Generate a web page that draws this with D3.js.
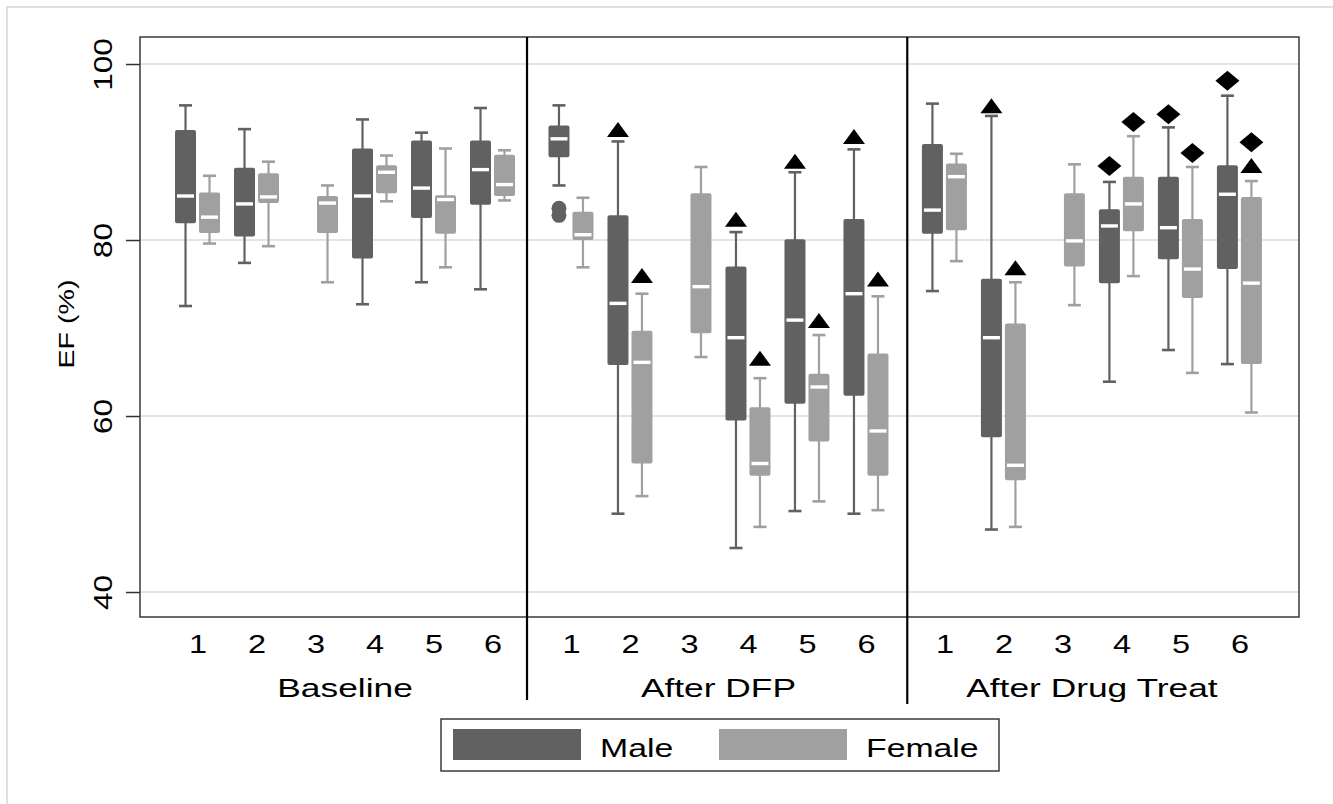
<!DOCTYPE html>
<html>
<head>
<meta charset="utf-8">
<script src="https://cdn.jsdelivr.net/npm/d3@7"></script>
<style>
  body { margin: 0; background: #fff; }
  svg { display: block; font-family: "Liberation Sans", Arial, sans-serif; }
</style>
</head>
<body>
<div id="chart"></div>
<script>
// ---- data ----
var panels = ["Baseline", "After DFP", "After Drug Treat"];
var groups = ["1", "2", "3", "4", "5", "6"];
var sexes = ["Male", "Female"];
var yTicks = [40, 60, 80, 100];

// [min, q1, median, q3, max] per group, null = no box
var maleBaseline   = [[72.5, 81.9, 85.0, 92.5, 95.3], [77.4, 80.4, 84.1, 88.2, 92.6], null,
                      [72.7, 77.9, 85.0, 90.4, 93.7], [75.2, 82.5, 85.9, 91.3, 92.2], [74.4, 84.0, 88.0, 91.3, 95.0]];
var femaleBaseline = [[79.6, 80.8, 82.6, 85.4, 87.3], [79.3, 84.2, 84.9, 87.6, 88.9], [75.2, 80.8, 84.2, 85.0, 86.2],
                      [84.4, 85.3, 87.7, 88.5, 89.6], [76.9, 80.7, 84.6, 85.1, 90.4], [84.5, 85.0, 86.3, 89.7, 90.2]];
var maleDFP        = [[86.2, 89.4, 91.5, 93.0, 95.3], [48.9, 65.8, 72.8, 82.8, 91.2], null,
                      [45.0, 59.5, 68.9, 77.0, 80.9], [49.2, 61.4, 70.9, 80.1, 87.7], [48.9, 62.3, 73.9, 82.4, 90.3]];
var femaleDFP      = [[76.9, 80.0, 80.6, 83.2, 84.8], [50.9, 54.6, 66.1, 69.7, 73.9], [66.7, 69.4, 74.7, 85.3, 88.3],
                      [47.4, 53.2, 54.6, 61.0, 64.3], [50.3, 57.1, 63.3, 64.8, 69.2], [49.3, 53.2, 58.3, 67.1, 73.6]];
var maleDrug       = [[74.2, 80.7, 83.4, 90.9, 95.5], [47.1, 57.6, 68.9, 75.6, 94.1], null,
                      [63.9, 75.1, 81.6, 83.5, 86.6], [67.5, 77.8, 81.4, 87.2, 92.8], [65.9, 76.7, 85.2, 88.5, 96.4]];
var femaleDrug     = [[77.6, 81.1, 87.2, 88.7, 89.8], [47.4, 52.7, 54.4, 70.5, 75.2], [72.6, 77.0, 79.9, 85.3, 88.6],
                      [75.9, 81.0, 84.1, 87.2, 91.8], [64.9, 73.4, 76.7, 82.4, 88.3], [60.4, 65.9, 75.1, 84.9, 86.7]];

// outliers: [panel, group, sex, value]
var outliers = [[1, 1, "Male", 83.6], [1, 1, "Male", 82.8]];

// significance markers: [panel, group, sex, value]
var triangles = [
  [1, 2, "Male", 92.5], [1, 4, "Male", 82.3], [1, 5, "Male", 88.9], [1, 6, "Male", 91.7],
  [1, 2, "Female", 75.9], [1, 4, "Female", 66.5], [1, 5, "Female", 70.8], [1, 6, "Female", 75.5],
  [2, 2, "Male", 95.2], [2, 2, "Female", 76.8], [2, 6, "Female", 88.4]
];
var diamonds = [
  [2, 4, "Male", 88.4], [2, 5, "Male", 94.3], [2, 6, "Male", 98.1],
  [2, 4, "Female", 93.4], [2, 5, "Female", 89.9], [2, 6, "Female", 91.1]
];

var boxData = [
  {Male: maleBaseline, Female: femaleBaseline},
  {Male: maleDFP, Female: femaleDFP},
  {Male: maleDrug, Female: femaleDrug}
];

// ---- layout ----
var W = 1333, H = 804;
var plotL = 140, plotR = 1299, plotT = 37, plotB = 617;
var panelStep = 6.33;          // x units between panels
var dividers = [6.585, 13.03]; // x units
var colors = {Male: "#616161", Female: "#a0a0a0"};
var boxW = 21, capW = 13;

var svg = d3.select("#chart").append("svg")
  .attr("width", W)
  .attr("height", H);

var x = d3.scaleLinear().domain([0.025, 19.67]).range([plotL, plotR]);
var y = d3.scaleLinear().domain([37.16, 103.07]).range([plotB, plotT]);
var sexOff = d3.scaleBand().domain(sexes).range([-24, 24]);

function pos(p, g) { return p * panelStep + g; }
function cx(p, g, sex) { return x(pos(p, g)) + sexOff(sex) + sexOff.bandwidth() / 2; }

// outer light frame (top and left only, as in the image)
svg.append("path")
  .attr("d", "M7," + H + "V7H" + W)
  .attr("fill", "none")
  .attr("stroke", "#d6d6d6")
  .attr("stroke-width", 1.5);

// gridlines
svg.append("g").selectAll("line")
  .data(yTicks)
  .enter().append("line")
  .attr("x1", plotL).attr("x2", plotR)
  .attr("y1", function(d) { return y(d); })
  .attr("y2", function(d) { return y(d); })
  .attr("stroke", "#e4e4e4")
  .attr("stroke-width", 2);

// y axis
var yAxis = svg.append("g")
  .attr("transform", "translate(" + plotL + ",0)")
  .call(d3.axisLeft(y).tickValues(yTicks).tickSize(14).tickSizeOuter(0));
yAxis.select(".domain").remove();
yAxis.selectAll(".tick line").attr("stroke", "#333").attr("stroke-width", 1.5);
yAxis.selectAll(".tick text")
  .attr("x", null).attr("y", null).attr("dy", null)
  .attr("text-anchor", "middle")
  .attr("fill", "#000")
  .style("font-size", "25px")
  .attr("transform", "translate(-28,0) rotate(-90) scale(1.26,1)");

svg.append("text")
  .attr("transform", "translate(74,324) rotate(-90) scale(1.3,1)")
  .attr("text-anchor", "middle")
  .style("font-size", "22px")
  .text("EF (%)");

// boxes
var flat = [];
boxData.forEach(function(pd, p) {
  sexes.forEach(function(sex) {
    pd[sex].forEach(function(s, i) {
      if (s) flat.push({p: p, g: i + 1, sex: sex, s: s});
    });
  });
});

var bx = svg.append("g").selectAll("g")
  .data(flat)
  .enter().append("g")
  .attr("transform", function(d) { return "translate(" + cx(d.p, d.g, d.sex) + ",0)"; });

bx.append("line")
  .attr("y1", function(d) { return y(d.s[0]); })
  .attr("y2", function(d) { return y(d.s[4]); })
  .attr("stroke", function(d) { return colors[d.sex]; })
  .attr("stroke-width", 2.2);

bx.selectAll(".cap")
  .data(function(d) { return [{v: d.s[0], sex: d.sex}, {v: d.s[4], sex: d.sex}]; })
  .enter().append("line")
  .attr("class", "cap")
  .attr("x1", -capW / 2).attr("x2", capW / 2)
  .attr("y1", function(c) { return y(c.v); })
  .attr("y2", function(c) { return y(c.v); })
  .attr("stroke", function(c) { return colors[c.sex]; })
  .attr("stroke-width", 2.6);

bx.append("rect")
  .attr("x", -boxW / 2)
  .attr("width", boxW)
  .attr("y", function(d) { return y(d.s[3]); })
  .attr("height", function(d) { return y(d.s[1]) - y(d.s[3]); })
  .attr("rx", 2)
  .attr("fill", function(d) { return colors[d.sex]; });

bx.append("line")
  .attr("x1", -8.5).attr("x2", 8.5)
  .attr("y1", function(d) { return y(d.s[2]); })
  .attr("y2", function(d) { return y(d.s[2]); })
  .attr("stroke", "#fff")
  .attr("stroke-width", 3.4);

// outliers
svg.append("g").selectAll("circle")
  .data(outliers)
  .enter().append("circle")
  .attr("cx", function(d) { return cx(d[0], d[1], d[2]); })
  .attr("cy", function(d) { return y(d[3]); })
  .attr("r", 7.5)
  .attr("fill", colors.Male);

// markers
svg.append("g").selectAll("path")
  .data(triangles)
  .enter().append("path")
  .attr("transform", function(d) { return "translate(" + cx(d[0], d[1], d[2]) + "," + y(d[3]) + ")"; })
  .attr("d", "M0,-8L11,7L-11,7Z")
  .attr("fill", "#000");

svg.append("g").selectAll("path")
  .data(diamonds)
  .enter().append("path")
  .attr("transform", function(d) { return "translate(" + cx(d[0], d[1], d[2]) + "," + y(d[3]) + ")"; })
  .attr("d", "M0,-10L12,0L0,10L-12,0Z")
  .attr("fill", "#000");

// plot frame
svg.append("rect")
  .attr("x", plotL).attr("y", plotT)
  .attr("width", plotR - plotL).attr("height", plotB - plotT)
  .attr("fill", "none")
  .attr("stroke", "#3a3a3a")
  .attr("stroke-width", 1.5);

// panel dividers (run down through the labels)
svg.append("g").selectAll("line")
  .data(dividers)
  .enter().append("line")
  .attr("x1", function(d) { return x(d); })
  .attr("x2", function(d) { return x(d); })
  .attr("y1", plotT)
  .attr("y2", function(d, i) { return i ? 704 : 700; })
  .attr("stroke", "#000")
  .attr("stroke-width", 2.2);

// x labels
var xTickData = [];
panels.forEach(function(pn, p) {
  groups.forEach(function(g, i) { xTickData.push({pos: pos(p, i + 1), label: g}); });
});

var xAxis = svg.append("g")
  .attr("transform", "translate(0," + plotB + ")")
  .call(d3.axisBottom(x)
    .tickValues(xTickData.map(function(d) { return d.pos; }))
    .tickFormat(function(d, i) { return xTickData[i].label; })
    .tickSize(0));
xAxis.select(".domain").remove();
xAxis.selectAll(".tick text")
  .attr("y", 36).attr("dy", null)
  .attr("fill", "#000")
  .style("font-size", "25px")
  .attr("transform", "scale(1.3,1)")
  .attr("x", 0);

svg.append("g").selectAll("text")
  .data(panels)
  .enter().append("text")
  .attr("transform", function(d, p) { return "translate(" + x(pos(p, 3.5)) + ",697) scale(1.36,1)"; })
  .attr("text-anchor", "middle")
  .style("font-size", "26px")
  .text(function(d) { return d; });

// legend
var lg = svg.append("g");
lg.append("rect")
  .attr("x", 441).attr("y", 719)
  .attr("width", 558).attr("height", 52)
  .attr("fill", "#fff")
  .attr("stroke", "#3a3a3a")
  .attr("stroke-width", 1.5);

var items = lg.selectAll("g")
  .data(sexes)
  .enter().append("g")
  .attr("transform", function(d, i) { return "translate(" + (453 + i * 266) + ",729)"; });

items.append("rect")
  .attr("width", 128).attr("height", 31)
  .attr("fill", function(d) { return colors[d]; });

items.append("text")
  .attr("transform", "translate(147,28) scale(1.3,1)")
  .style("font-size", "26px")
  .text(function(d) { return d; });
</script>
</body>
</html>
